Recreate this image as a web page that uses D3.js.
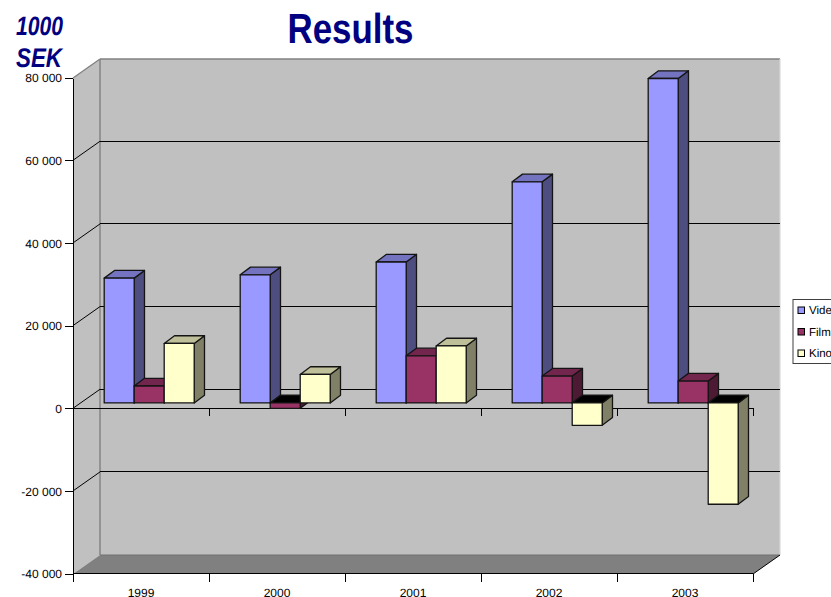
<!DOCTYPE html>
<html><head><meta charset="utf-8">
<script src="https://cdn.jsdelivr.net/npm/d3@7"></script>
<style>html,body{margin:0;padding:0;background:#fff;overflow:hidden}svg{display:block}text{font-family:"Liberation Sans",Arial,sans-serif;text-rendering:geometricPrecision}</style>
</head><body><div id="c"></div>
<script>
const years = ["1999","2000","2001","2002","2003"];
const seriesNames = ["Video","Film","Kino"];
const video = [30200,31000,34100,53500,78500];
const film = [4100,-1300,11400,6500,5300];
const kino = [14400,6900,13800,-5400,-24500];
const yTicks = [-40000,-20000,0,20000,40000,60000,80000];
const faceColors = ["#9999ff","#993366","#ffffcc"];
const sideColors = ["#4d4d80","#4d1a33","#808066"];
const topColors = ["#7373bf","#73264d","#bfbf99"];

const W=831,H=597;
const dx=27,dy=-19;           // wall depth
const barDx=10.3,barDy=-7.7;  // bar depth
const offX=8.2,offY=-5.7;     // front of bars relative to front plane
const svg=d3.select("#c").append("svg").attr("width",W).attr("height",H);
const x=d3.scaleBand().domain(years).range([73,753]);
const y=d3.scaleLinear().domain([-40000,80000]).range([574,78]);
const s=d3.scaleBand().domain(seriesNames).range([0,90]);
const fmt=v=>d3.format(",")(v).replace(/,/g," ").replace("\u2212","-");
const line=(g,x1,y1,x2,y2,c,w=1,crisp=true)=>g.append("line").attr("x1",x1).attr("y1",y1).attr("x2",x2).attr("y2",y2).attr("stroke",c).attr("stroke-width",w)
  .attr("shape-rendering",(crisp&&(x1===x2||y1===y2))?"crispEdges":"auto");
const poly=(g,pts,f,st="none",w=1)=>g.append("polygon").attr("points",pts.map(p=>p.join(",")).join(" ")).attr("fill",f).attr("stroke",st).attr("stroke-width",w).attr("stroke-linejoin","round");

const [x0,x1]=x.range(),yb=y(-40000),yt=y(80000);
// walls
poly(svg,[[x0,yt],[x0+dx,yt+dy],[x0+dx,yb+dy],[x0,yb]],"#c0c0c0");
poly(svg,[[x0+dx,yt+dy],[x1+dx,yt+dy],[x1+dx,yb+dy],[x0+dx,yb+dy]],"#c0c0c0");
poly(svg,[[x0,yb],[x0+dx,yb+dy],[x1+dx,yb+dy],[x1,yb]],"#808080");
line(svg,x0,yt,x0+dx,yt+dy,"#808080",1.3);
line(svg,x0+dx,yt+dy,x1+dx,yt+dy,"#808080",1.4,false);
line(svg,x0+dx,yt+dy,x0+dx,yb+dy,"#808080",1.4,false);
line(svg,x0+dx,yb+dy,x1+dx,yb+dy,"#707070",1.2,false);
line(svg,x1+dx,yt+dy,x1+dx,yb+dy,"#d8d8d8",1.2,false);
// gridlines
yTicks.filter(t=>t>-40000&&t<80000).forEach(t=>{
  line(svg,x0,y(t)-0.4,x0+dx,y(t)-0.4+dy,"#000");
  line(svg,x0+dx,y(t)-0.4+dy,x1+dx,y(t)-0.4+dy,"#000");
});
line(svg,x1,yb,x1+dx,yb+dy,"#000");
// value axis
const ya=svg.append("g").attr("transform",`translate(${x0},0)`).call(d3.axisLeft(y).tickValues(yTicks).tickFormat(fmt).tickSize(8).tickSizeOuter(0).tickPadding(3));
ya.select(".domain").attr("shape-rendering","crispEdges");
ya.selectAll("line").attr("shape-rendering","crispEdges").attr("transform","translate(0,-0.4)");
ya.selectAll("text").attr("font-size",12).attr("fill","#000").style("font-family",'"Liberation Sans",Arial,sans-serif');
ya.selectAll("line,path").attr("stroke","#000");
// zero and bottom category axes
const edges=[...years.map(d=>x(d)),x1];
[0,-40000].forEach(v=>{
  const g=svg.append("g");
  const yy=y(v)-0.4;
  line(g,x0,yy,x1,yy,"#000");
  edges.forEach(e=>line(g,e,yy,e,yy+8,"#000"));
});
svg.selectAll("text.cat").data(years).join("text").attr("class","cat")
  .attr("x",d=>x(d)+x.bandwidth()/2).attr("y",596.5).attr("text-anchor","middle")
  .attr("font-size",12).attr("fill","#000").text(d=>d);
// bars
const stroke="#141414";
const vals=[video,film,kino];
years.forEach((yr,i)=>{
  const gx=x(yr)+(x.bandwidth()-90)/2+offX;
  seriesNames.forEach((n,k)=>{
    const v=vals[k][i];
    const l=gx+s(n),r=l+s.bandwidth();
    const top=y(Math.max(v,0))+offY,bot=y(Math.min(v,0))+offY;
    const g=svg.append("g");
    poly(g,[[r,top],[r+barDx,top+barDy],[r+barDx,bot+barDy],[r,bot]],sideColors[k],stroke,1.3);
    poly(g,[[l,top],[l+barDx,top+barDy],[r+barDx,top+barDy],[r,top]],v<0?"#000":topColors[k],stroke,1.3);
    poly(g,[[l,top],[r,top],[r,bot],[l,bot]],faceColors[k],stroke,1.3);
  });
});
// legend
const lg=svg.append("g");
lg.append("rect").attr("x",793).attr("y",299.5).attr("width",60).attr("height",64).attr("fill","#fff").attr("stroke","#404040");
seriesNames.forEach((n,k)=>{
  const cy=310.5+k*21.5;
  lg.append("rect").attr("x",798).attr("y",cy-3.5).attr("width",6.5).attr("height",6.5).attr("fill",faceColors[k]).attr("stroke","#000");
  lg.append("text").attr("x",809).attr("y",cy+3.5).attr("font-size",11.5).attr("fill","#000").text(n);
});
// titles
const navy="#000080";
const title=(t,xp,yp,size,len,italic)=>svg.append("text").attr("x",xp).attr("y",yp).attr("font-size",size).attr("font-weight","bold")
  .attr("font-style",italic?"italic":"normal").attr("fill",navy).attr("textLength",len).attr("lengthAdjust","spacingAndGlyphs").text(t);
title("Results",287.5,43,42,126,false);
title("1000",16,35,26.5,47,true);
title("SEK",16,67,27,46,true);
</script></body></html>
